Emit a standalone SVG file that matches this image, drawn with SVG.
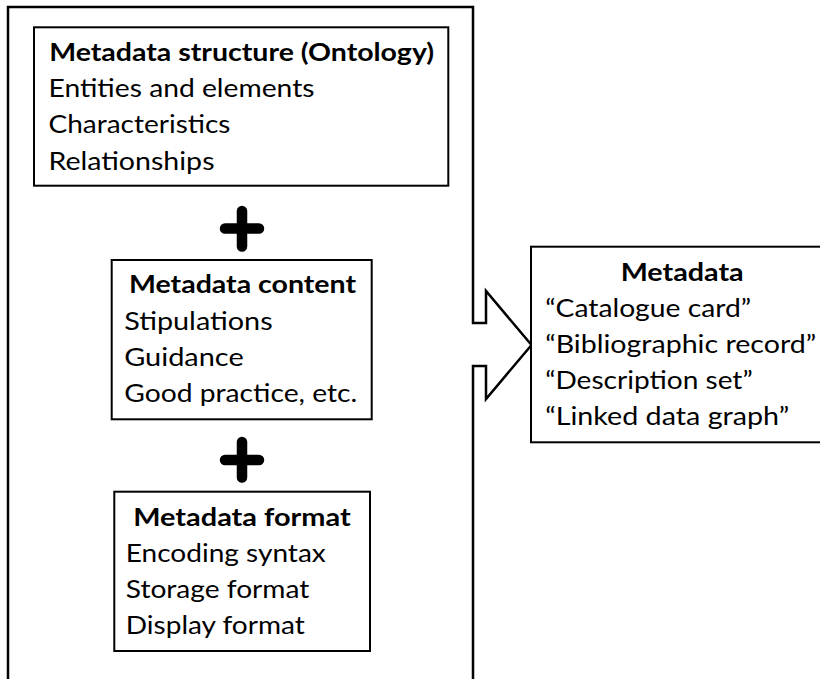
<svg xmlns="http://www.w3.org/2000/svg" width="820" height="679" viewBox="0 0 820 679">
<style>
  .box { fill: #ffffff; stroke: #000000; stroke-width: 2; }
  .frame { fill: none; stroke: #000000; stroke-width: 2.5; stroke-linejoin: miter; }
  .plus { stroke: #000000; stroke-width: 10.5; stroke-linecap: round; fill: none; }
  text { font-family: "Lato", "Liberation Sans", sans-serif; font-size: 24.5px; fill: #000000; }
  .title { font-weight: 700; text-anchor: middle; }
</style>
<rect x="0" y="0" width="820" height="679" fill="#ffffff"/>
<g id="connectors">
  <path class="frame" d="M 8,682 L 8,7 L 473,7 L 473,323 L 486,323 L 486,291 L 531.5,345 L 486,399 L 486,366 L 473,366 L 473,682"/>
  <path class="plus" d="M 225,228.5 L 259,228.5 M 242,211 L 242,246.5"/>
  <path class="plus" d="M 225,460 L 259,460 M 242,442 L 242,477.5"/>
</g>
<g id="structure">
  <rect class="box" x="34" y="27.3" width="414.3" height="158.4"/>
  <text class="title" x="241.7" y="60.5" textLength="385" lengthAdjust="spacingAndGlyphs">Metadata structure (Ontology)</text>
  <text x="48.5" y="96.5" textLength="266" lengthAdjust="spacingAndGlyphs">Entities and elements</text>
  <text x="48.5" y="133" textLength="182" lengthAdjust="spacingAndGlyphs">Characteristics</text>
  <text x="48.5" y="169.5" textLength="166" lengthAdjust="spacingAndGlyphs">Relationships</text>
</g>
<g id="content">
  <rect class="box" x="111.7" y="260" width="260" height="159.3"/>
  <text class="title" x="242.5" y="292.5" textLength="227" lengthAdjust="spacingAndGlyphs">Metadata content</text>
  <text x="124.2" y="329.5" textLength="148.5" lengthAdjust="spacingAndGlyphs">Stipulations</text>
  <text x="124.2" y="366.3" textLength="119.5" lengthAdjust="spacingAndGlyphs">Guidance</text>
  <text x="124.2" y="402" textLength="233" lengthAdjust="spacingAndGlyphs">Good practice, etc.</text>
</g>
<g id="format">
  <rect class="box" x="114.3" y="491.7" width="255.7" height="159.3"/>
  <text class="title" x="242" y="525.5" textLength="217.5" lengthAdjust="spacingAndGlyphs">Metadata format</text>
  <text x="125.8" y="561.5" textLength="200" lengthAdjust="spacingAndGlyphs">Encoding syntax</text>
  <text x="125.8" y="598" textLength="183.5" lengthAdjust="spacingAndGlyphs">Storage format</text>
  <text x="125.8" y="634" textLength="179" lengthAdjust="spacingAndGlyphs">Display format</text>
</g>
<g id="metadata">
  <rect class="box" x="531" y="246.7" width="295" height="195.6"/>
  <text class="title" x="682.2" y="280.5" textLength="123" lengthAdjust="spacingAndGlyphs">Metadata</text>
  <text x="545.2" y="316.5" textLength="206" lengthAdjust="spacingAndGlyphs">“Catalogue card”</text>
  <text x="545.2" y="353" textLength="271" lengthAdjust="spacingAndGlyphs">“Bibliographic record”</text>
  <text x="545.2" y="389" textLength="207.5" lengthAdjust="spacingAndGlyphs">“Description set”</text>
  <text x="545.2" y="425" textLength="244" lengthAdjust="spacingAndGlyphs">“Linked data graph”</text>
</g>
</svg>
